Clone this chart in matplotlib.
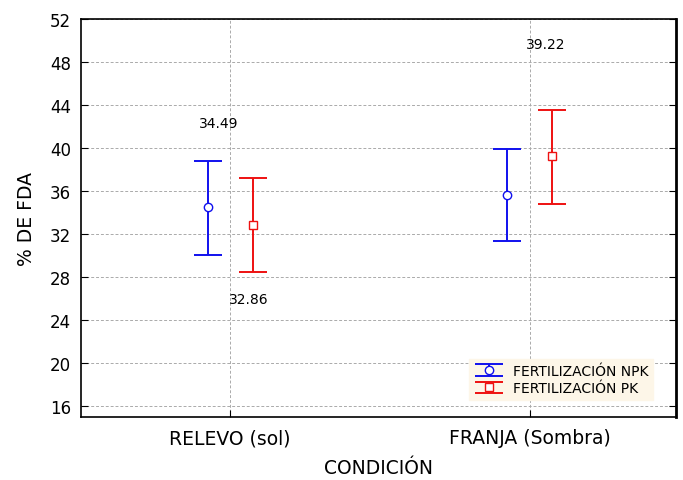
import numpy as np
import matplotlib.pyplot as plt
from matplotlib.legend_handler import HandlerErrorbar

plt.rcParams['font.family'] = ['DejaVu Sans']

# ======= DATA =======
condiciones = ['RELEVO (sol)', 'FRANJA (Sombra)']
npk_media = [34.49, 35.6]
npk_sup = [38.8, 39.9]
npk_inf = [30.1, 31.35]
pk_media = [32.86, 39.22]
pk_sup = [37.2, 43.5]
pk_inf = [28.5, 34.8]
etiquetas = ['34.49', '32.86', '39.22']
etiq_pos = [(-0.037, 42.3), (0.063, 25.95), (1.053, 49.7)]

# ======= FIGURA =======
fig = plt.figure(figsize=(6.83, 4.81), dpi=100)
ax = fig.add_axes([81 / 683, 1 - 418 / 481, 595 / 683, 398 / 481])

x = np.arange(len(condiciones))
off = 0.075

npk_media = np.array(npk_media)
pk_media = np.array(pk_media)
err_npk = [npk_media - np.array(npk_inf), np.array(npk_sup) - npk_media]
err_pk = [pk_media - np.array(pk_inf), np.array(pk_sup) - pk_media]

ax.errorbar(x - off, npk_media, yerr=err_npk, fmt='o', color='#1010ee',
            mfc='white', mec='#1010ee', ms=6, capsize=10, elinewidth=1.4,
            capthick=1.4, label='FERTILIZACIÓN NPK', zorder=3)
ax.errorbar(x + off, pk_media, yerr=err_pk, fmt='s', color='#ee1111',
            mfc='white', mec='#ee1111', ms=6, capsize=10, elinewidth=1.4,
            capthick=1.4, label='FERTILIZACIÓN PK', zorder=3)

for txt, (tx, ty) in zip(etiquetas, etiq_pos):
    ax.text(tx, ty, txt, ha='center', va='center', fontsize=10)

ax.set_xlim(-0.497, 1.487)
ax.set_ylim(15, 52)
ax.set_yticks(np.arange(16, 53, 4))
ax.set_xticks(x)
ax.set_xticklabels(condiciones, fontsize=13.5)
ax.tick_params(axis='y', labelsize=12, direction='in', right=True, length=5, pad=7)
ax.tick_params(axis='x', direction='in', length=5, pad=8)
ax.grid(True, color='#aaaaaa', linestyle=(0, (3, 2)), linewidth=0.7)
ax.set_axisbelow(True)

for s in ax.spines.values():
    s.set_linewidth(1.2)
ax.spines['right'].set_linewidth(2)

ax.set_xlabel('CONDICIÓN', fontsize=13.5, labelpad=8)
ax.set_ylabel('% DE FDA', fontsize=13.5, labelpad=10)

leg = ax.legend(loc='lower right', bbox_to_anchor=(0.973, 0.025), fontsize=10,
                frameon=True, fancybox=False, framealpha=1,
                facecolor='#fdf6e8', edgecolor='#fdf6e8',
                handlelength=2.2, borderpad=0.35, labelspacing=0.25,
                handletextpad=0.6,
                handler_map={type(ax.containers[0]):
                             HandlerErrorbar(xerr_size=0.55, yerr_size=0.42)})

fig.savefig('out.png', dpi=100)
